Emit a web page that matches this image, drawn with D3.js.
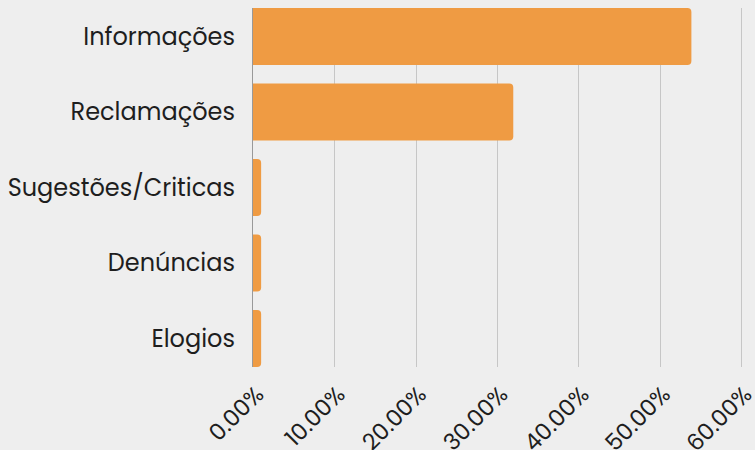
<!DOCTYPE html>
<html>
<head>
<meta charset="utf-8">
<script src="https://cdn.jsdelivr.net/npm/d3@7"></script>
<style>
  body { margin: 0; background: #eeeeee; }
  svg { display: block; }
</style>
</head>
<body>
<svg width="755" height="450"></svg>
<script>
var categories = ['Informações', 'Reclamações', 'Sugestões/Criticas', 'Denúncias', 'Elogios']
var values = [0.539, 0.32, 0.01, 0.01, 0.01]
var tickValues = [0, 0.1, 0.2, 0.3, 0.4, 0.5, 0.6]

var data = categories.map(function(c, i) { return {name: c, value: values[i]} })

var margin = {top: 8, right: 14, bottom: 83, left: 253}
var width = 755 - margin.left - margin.right
var height = 450 - margin.top - margin.bottom

var svg = d3.select('svg')
svg.append('rect').attr('width', 755).attr('height', 450).attr('fill', '#eeeeee')

var g = svg.append('g').attr('transform', 'translate(' + margin.left + ',' + margin.top + ')')

var x = d3.scaleLinear().domain([0, 0.6]).range([0, width])
var y = d3.scaleBand()
  .domain(categories)
  .range([0, height])
  .paddingInner(0.245)
  .paddingOuter(0)

// grid
g.selectAll('.grid')
  .data(tickValues.slice(1))
  .enter().append('line')
  .attr('x1', d => Math.round(x(d)) + 0.5)
  .attr('x2', d => Math.round(x(d)) + 0.5)
  .attr('y1', 0)
  .attr('y2', height)
  .attr('stroke', '#c6c6c6')
  .attr('stroke-width', 1)

// zero line
g.append('line')
  .attr('x1', -0.5).attr('x2', -0.5)
  .attr('y1', 0).attr('y2', height)
  .attr('stroke', '#999')

// bars, rounded on the right
function barPath(w, h) {
  var r = Math.min(4, w / 2, h / 2)
  return 'M0,0H' + (w - r) + 'Q' + w + ',0 ' + w + ',' + r +
    'V' + (h - r) + 'Q' + w + ',' + h + ' ' + (w - r) + ',' + h + 'H0Z'
}

g.selectAll('.bar')
  .data(data)
  .enter().append('path')
  .attr('transform', d => 'translate(0,' + y(d.name) + ')')
  .attr('d', d => barPath(x(d.value), y.bandwidth()))
  .attr('fill', '#ef9b43')

// category labels
g.selectAll('.cat')
  .data(data)
  .enter().append('text')
  .attr('x', -18)
  .attr('y', d => y(d.name) + y.bandwidth() / 2)
  .attr('dy', '0.35em')
  .attr('text-anchor', 'end')
  .style('font-family', 'Poppins, Lato, sans-serif')
  .style('font-size', '24px')
  .attr('fill', '#1e1e1e')
  .text(d => d.name)

// x tick labels
var fmt = d3.format('.2%')
g.selectAll('.tick-label')
  .data(tickValues)
  .enter().append('text')
  .attr('transform', d => 'translate(' + (x(d) + 12) + ',' + (height + 29) + ') rotate(-45)')
  .attr('text-anchor', 'end')
  .style('font-family', 'Poppins, Lato, sans-serif')
  .style('font-size', '23px')
  .attr('fill', '#1e1e1e')
  .text(d => fmt(d))
</script>
</body>
</html>
